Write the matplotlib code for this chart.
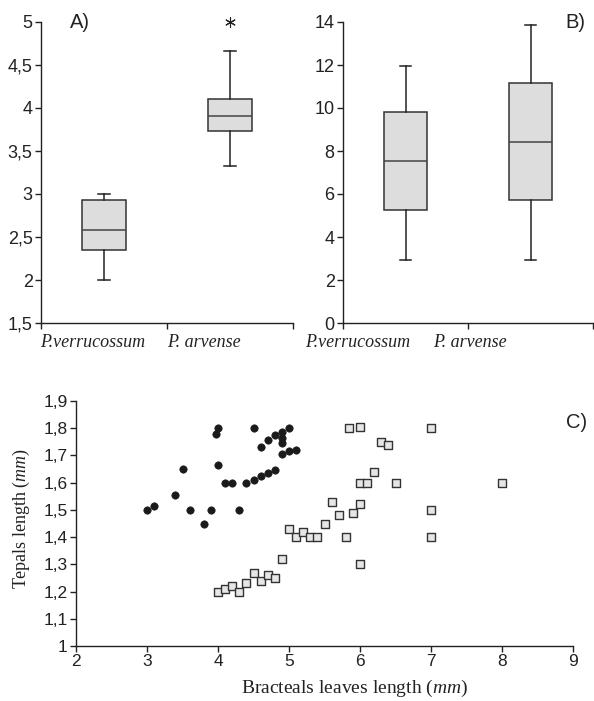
import matplotlib
matplotlib.use("Agg")
import matplotlib.pyplot as plt
from matplotlib.ticker import FuncFormatter, MultipleLocator

plt.rcParams["mathtext.fontset"] = "custom"
plt.rcParams["mathtext.rm"] = "Liberation Serif"
plt.rcParams["mathtext.it"] = "Liberation Serif:italic"

# ---------------- data ----------------
species = ["P.verrucossum", "P. arvense"]

# Panel A box statistics
a_whislo = [2.00, 3.33]
a_q1 = [2.345, 3.735]
a_med = [2.585, 3.91]
a_q3 = [2.925, 4.105]
a_whishi = [3.00, 4.665]
a_outlier_x = [2]
a_outlier_y = [5.0]

# Panel B box statistics
b_whislo = [2.95, 2.93]
b_q1 = [5.27, 5.72]
b_med = [7.55, 8.42]
b_q3 = [9.80, 11.15]
b_whishi = [11.95, 13.88]

# Panel C scatter: P. verrucossum (filled circles)
verr_x = [3.0, 3.1, 3.4, 3.5, 3.6, 3.8, 3.9, 3.97, 4.0, 4.0, 4.1, 4.2, 4.3, 4.4,
          4.5, 4.6, 4.7, 4.8, 4.6, 4.7, 4.8, 4.5, 4.9, 4.9, 4.9, 5.0, 4.9, 5.0, 5.1]
verr_y = [1.50, 1.515, 1.555, 1.65, 1.50, 1.45, 1.50, 1.78, 1.80, 1.665, 1.60, 1.60, 1.50, 1.60,
          1.61, 1.625, 1.635, 1.645, 1.73, 1.755, 1.775, 1.80, 1.785, 1.765, 1.745, 1.80, 1.705, 1.715, 1.72]

# Panel C scatter: P. arvense (open squares)
arv_x = [4.0, 4.1, 4.2, 4.3, 4.4, 4.5, 4.6, 4.7, 4.8, 4.9, 5.0, 5.1, 5.2, 5.3, 5.4, 5.5,
         5.6, 5.7, 5.8, 5.85, 5.9, 6.0, 6.0, 6.0, 6.1, 6.0, 6.2, 6.3, 6.4, 6.5, 7.0, 7.0, 7.0, 8.0]
arv_y = [1.20, 1.21, 1.22, 1.20, 1.23, 1.27, 1.24, 1.26, 1.25, 1.32, 1.43, 1.40, 1.42, 1.40, 1.40, 1.45,
         1.53, 1.48, 1.40, 1.80, 1.49, 1.52, 1.805, 1.60, 1.60, 1.30, 1.64, 1.75, 1.74, 1.60, 1.80, 1.50, 1.40, 1.60]

# ---------------- style ----------------
TICKFONT = ["Liberation Sans Narrow", "Liberation Sans", "DejaVu Sans"]
SERIF = ["Liberation Serif", "DejaVu Serif"]
INK = "#222222"
BOXFACE = "#dddddd"

def comma_fmt(v, pos):
    s = ("%g" % round(v, 3))
    return s.replace(".", ",")

W, H = 594, 701
fig = plt.figure(figsize=(W / 100, H / 100), dpi=100)

def px_axes(left, top, right, bottom):
    return fig.add_axes([left / W, 1 - bottom / H, (right - left) / W, (bottom - top) / H])

def style_axes(ax, fs):
    for s in ("top", "right"):
        ax.spines[s].set_visible(False)
    for s in ("left", "bottom"):
        ax.spines[s].set_color(INK)
        ax.spines[s].set_linewidth(1.0)
    ax.tick_params(direction="out", length=4, width=1.0, color=INK, labelcolor=INK, pad=2)
    for lab in ax.get_xticklabels() + ax.get_yticklabels():
        lab.set_family(TICKFONT)
        lab.set_fontsize(fs)

def boxpanel(ax, whislo, q1, med, q3, whishi):
    stats = []
    for i in range(len(species)):
        stats.append(dict(whislo=whislo[i], q1=q1[i], med=med[i], q3=q3[i], whishi=whishi[i], fliers=[]))
    ax.bxp(stats, positions=[1, 2], widths=0.35, patch_artist=True, showfliers=False,
           boxprops=dict(facecolor=BOXFACE, edgecolor="#333333", linewidth=1.1),
           medianprops=dict(color="#444444", linewidth=1.1),
           whiskerprops=dict(color="#222222", linewidth=1.1),
           capprops=dict(color="#222222", linewidth=1.1), capwidths=0.09)
    ax.set_xlim(0.5, 2.5)
    ax.set_xticks([0.5, 1.5, 2.5])
    ax.set_xticklabels(["", "", ""])

# ---------------- Panel A ----------------
axA = px_axes(41, 22, 293, 323)
boxpanel(axA, a_whislo, a_q1, a_med, a_q3, a_whishi)
axA.scatter(a_outlier_x, a_outlier_y, marker=(6, 2, 0), s=50, color=INK, linewidths=0.8, clip_on=False, zorder=5)
axA.set_ylim(1.5, 5)
axA.yaxis.set_major_locator(MultipleLocator(0.5))
axA.yaxis.set_major_formatter(FuncFormatter(comma_fmt))
style_axes(axA, 13)
axA.text(0.115, 1.0, "A)", transform=axA.transAxes, ha="left", va="center",
         fontsize=14.5, family=TICKFONT, color=INK)
for xpos, name in zip([0.49, 1.5], species):
    axA.text(xpos, -0.066, name, transform=axA.get_xaxis_transform(), ha="left", va="center",
             fontsize=13, family=SERIF, style="italic", color=INK)

# ---------------- Panel B ----------------
axB = px_axes(343, 22, 593, 323)
boxpanel(axB, b_whislo, b_q1, b_med, b_q3, b_whishi)
axB.set_ylim(0, 14)
axB.yaxis.set_major_locator(MultipleLocator(2))
axB.yaxis.set_major_formatter(FuncFormatter(comma_fmt))
style_axes(axB, 13)
axB.text(0.968, 1.0, "B)", transform=axB.transAxes, ha="right", va="center",
         fontsize=14.5, family=TICKFONT, color=INK)
for xpos, name in zip([0.196, 1.22], species):
    axB.text(xpos, -0.066, name, transform=axB.get_xaxis_transform(), ha="left", va="center",
             fontsize=13, family=SERIF, style="italic", color=INK)

# ---------------- Panel C ----------------
axC = px_axes(76, 401, 573, 646)
axC.scatter(verr_x, verr_y, marker="o", s=28, color="#1a1a1a", edgecolors="#1a1a1a", linewidths=0.5, zorder=3)
axC.scatter(arv_x, arv_y, marker="s", s=26, facecolor="#e6e6e6", edgecolors="#333333", linewidths=1.0, zorder=3)
axC.set_xlim(2, 9)
axC.set_ylim(1.0, 1.9)
axC.xaxis.set_major_locator(MultipleLocator(1))
axC.yaxis.set_major_locator(MultipleLocator(0.1))
axC.xaxis.set_major_formatter(FuncFormatter(comma_fmt))
axC.yaxis.set_major_formatter(FuncFormatter(comma_fmt))
style_axes(axC, 12.5)
axC.set_xlabel("Bracteals leaves length ($\\mathit{mm}$)", family=SERIF, fontsize=14, color=INK)
axC.xaxis.set_label_coords(0.56, -0.13)
axC.set_ylabel("Tepals length ($\\mathit{mm}$)", family=SERIF, fontsize=13, color=INK)
axC.yaxis.set_label_coords(-0.088, 0.52)
axC.text(1.028, 0.914, "C)", transform=axC.transAxes, ha="right", va="center",
         fontsize=14.5, family=TICKFONT, color=INK)

fig.savefig("out.png", dpi=100)
